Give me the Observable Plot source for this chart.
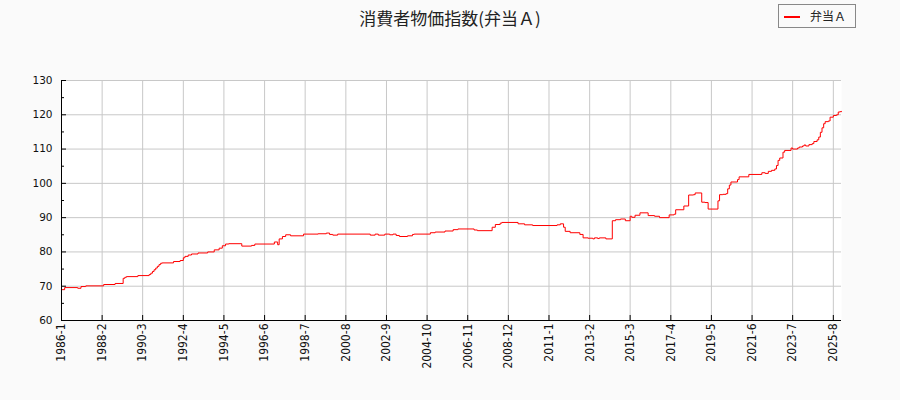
<!DOCTYPE html>
<html>
<head>
<meta charset="utf-8">
<script src="https://cdn.jsdelivr.net/npm/d3@7"></script>
<script src="https://cdn.jsdelivr.net/npm/@observablehq/plot@0.6"></script>
<style>
  html, body { margin: 0; padding: 0; background: #fafafa; }
  #wrap { position: relative; width: 900px; height: 400px; background: #fafafa; overflow: hidden; }
  #title { position: absolute; left: 0; width: 900px; top: 7px; text-align: center;
           font-family: "Noto Sans CJK JP", "Noto Sans", sans-serif; font-size: 17px; color: #222; line-height: 22px; }
  #legend { position: absolute; left: 778px; top: 4px; width: 76px; height: 22px; border: 1px solid #888;
            background: #fafafa; font-family: "Noto Sans CJK JP", sans-serif; font-size: 12px; color: #222; }
  #legend .sw { position: absolute; left: 5px; top: 11px; width: 16px; height: 2px; background: red; }
  #legend .lb { position: absolute; left: 31px; top: 2px; line-height: 18px; }
  #chart { position: absolute; left: 0; top: 0; }
</style>
</head>
<body>
<div id="wrap">
  <div id="chart"></div>
  <div id="title">消費者物価指数(弁当Ａ)</div>
  <div id="legend"><div class="sw"></div><div class="lb">弁当Ａ</div></div>
</div>
<script>
const seriesName = "弁当Ａ";
const months = [
  "1986-1","1986-3","1986-11","1987-1","1987-4","1988-3","1988-10","1989-3","1989-4","1989-5",
  "1989-12","1990-7","1990-8","1990-9","1990-10","1990-11","1990-12","1991-1","1991-2","1991-3",
  "1991-10","1992-2","1992-4","1992-5","1992-7","1992-9","1993-1","1993-7","1993-11","1994-2",
  "1994-4","1994-6","1994-8","1995-4","1995-10","1995-12","1996-12","1997-2","1997-3","1997-5",
  "1997-7","1997-10","1998-6","1999-3","1999-8","1999-10","1999-12","2000-3","2001-11","2002-2",
  "2002-4","2002-8","2002-11","2003-1","2003-3","2003-5","2003-10","2004-1","2004-2","2004-12",
  "2005-3","2005-9","2006-2","2006-5","2007-3","2007-5","2008-2","2008-4","2008-7","2008-8",
  "2009-6","2009-10","2010-3","2011-6","2011-8","2011-10","2011-11","2012-2","2012-8","2012-10",
  "2013-1","2013-4","2013-5","2013-7","2013-8","2013-12","2014-4","2014-6","2014-9","2014-12",
  "2015-3","2015-4","2015-6","2015-9","2016-2","2016-6","2016-9","2017-3","2017-6","2017-7",
  "2017-12","2018-3","2018-6","2018-7","2018-11","2019-1","2019-3","2019-9","2019-10","2019-12",
  "2020-2","2020-3","2020-4","2020-5","2020-9","2020-10","2021-4","2021-12","2022-2","2022-4",
  "2022-6","2022-8","2022-9","2022-10","2022-11","2023-1","2023-2","2023-6","2023-7","2023-10",
  "2023-11","2024-1","2024-2","2024-3","2024-5","2024-7","2024-8","2024-10","2024-11","2024-12",
  "2025-1","2025-2","2025-3","2025-5","2025-6","2025-8","2025-10","2025-11","2025-12","2026-1"
];
const values = [
  69.0,69.6,69.4,69.9,70.1,70.5,70.8,72.3,72.6,72.8,
  73.1,73.4,73.8,74.3,74.8,75.3,75.8,76.3,76.7,76.8,
  77.2,77.5,78.3,78.7,79.1,79.4,79.7,80.0,80.6,81.1,
  81.8,82.3,82.4,81.7,81.9,82.3,82.9,82.1,83.8,84.5,
  85.0,84.7,85.2,85.3,85.5,85.1,84.9,85.2,84.9,85.2,
  84.9,85.2,85.0,85.2,84.8,84.5,84.7,85.1,85.2,85.6,
  85.8,86.1,86.5,86.7,86.4,86.2,87.2,88.0,88.4,88.6,
  88.2,87.9,87.7,87.9,88.2,87.2,86.0,85.6,85.1,84.1,
  84.0,83.8,84.1,83.9,84.1,83.8,89.1,89.4,89.6,89.1,
  90.4,90.1,90.7,91.4,90.6,90.4,90.0,90.8,91.0,92.3,
  93.4,96.6,96.7,97.2,94.5,94.4,92.5,94.9,96.7,96.8,
  97.0,98.4,99.5,100.4,101.1,101.9,102.6,103.1,102.9,103.5,
  103.8,104.2,105.2,106.7,107.4,109.1,109.6,110.3,110.0,110.3,
  110.6,110.9,111.2,110.9,111.3,111.6,112.2,112.7,113.5,114.9,
  116.2,117.4,118.0,118.2,119.3,119.8,120.0,120.8,120.9,121.0
];
const tickLabels = ["1986-1","1988-2","1990-3","1992-4","1994-5","1996-6","1998-7","2000-8","2002-9","2004-10",
  "2006-11","2008-12","2011-1","2013-2","2015-3","2017-4","2019-5","2021-6","2023-7","2025-8"];
const yMajor = [60,70,80,90,100,110,120,130];
const yMinor = [65,75,85,95,105,115,125];
const yDomain = [60,130];

const parseYM = s => { const [y, m] = s.split("-").map(Number); return new Date(Date.UTC(y, m - 1, 1)); };
const fmtYM = d => `${d.getUTCFullYear()}-${d.getUTCMonth() + 1}`;
const data = months.map((m, i) => ({date: parseYM(m), value: values[i]}));
const tickDates = tickLabels.map(parseYM);
const xDomain = [data[0].date, data[data.length - 1].date];

const W = 900, H = 400, ML = 61, MR = 59, MT = 80, MB = 80;
const innerW = W - ML - MR, innerH = H - MT - MB;

const chart = Plot.plot({
  width: W, height: H,
  marginLeft: ML, marginRight: MR, marginTop: MT, marginBottom: MB,
  style: {background: "transparent", fontFamily: "DejaVu Sans, sans-serif", fontSize: "10.5px", color: "#111"},
  x: {type: "utc", domain: xDomain},
  y: {domain: yDomain},
  marks: [
    Plot.frame({fill: "white", stroke: null}),
    Plot.gridY(yMajor, {stroke: "#c8c8c8", strokeOpacity: 1}),
    Plot.gridX(tickDates, {stroke: "#c8c8c8", strokeOpacity: 1}),
    Plot.line(data, {x: "date", y: "value", curve: "step-after", stroke: "red", strokeWidth: 1}),
    Plot.ruleX([xDomain[0]], {stroke: "black"}),
    Plot.ruleY([yDomain[0]], {stroke: "black"}),
    Plot.ruleX(tickDates, {stroke: "black", insetTop: innerH - 5}),
    Plot.ruleY(yMajor, {stroke: "black", insetRight: innerW - 5}),
    Plot.ruleY(yMinor, {stroke: "black", insetRight: innerW - 3}),
    Plot.axisY(yMajor, {tickSize: 0, tickPadding: 9, label: null, fontSize: 10.5}),
    Plot.axisX(tickDates, {tickSize: 0, tickPadding: 3, tickRotate: -90, tickFormat: fmtYM, label: null,
      fontSize: 12, fontFamily: "DejaVu Sans Condensed, DejaVu Sans, sans-serif"})
  ]
});
document.getElementById("chart").appendChild(chart);
</script>
</body>
</html>
